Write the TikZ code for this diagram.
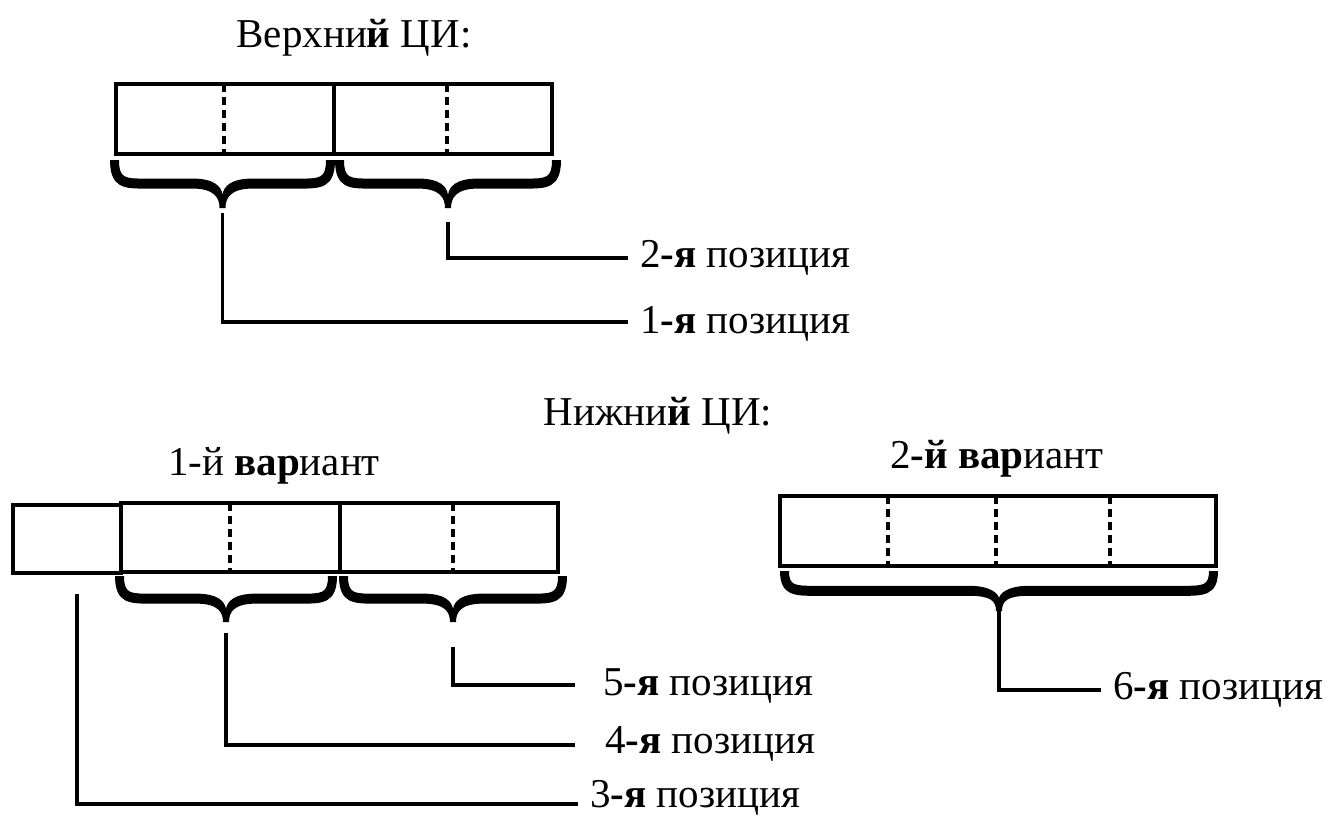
\documentclass[tikz,border=0pt]{standalone}
\usepackage{fontspec}
\setmainfont{Liberation Serif}
\begin{document}
\begin{tikzpicture}[x=1pt,y=-1pt,
  box/.style={line width=4pt},
  dline/.style={line width=4pt,dash pattern=on 8pt off 5pt},
  conn/.style={line width=3.5pt},
  lbl/.style={font=\fontsize{41}{46}\selectfont,inner sep=0pt,anchor=base west},
  ttl/.style={font=\fontsize{41}{46}\selectfont,inner sep=0pt,anchor=base}]
\useasboundingbox (0,0) rectangle (1327,816);
\newcommand\cbr[5]{%
 \pgfmathsetmacro\ba{#2}\pgfmathsetmacro\bb{#3}\pgfmathsetmacro\bt{#4}\pgfmathsetmacro\bh{#5}%
 \pgfmathsetmacro\bm{(\ba+\bb)/2}\pgfmathsetmacro\bd{0.47*\bh}%
 \fill (\ba-5,\bt)
  .. controls (\ba-5,\bt+\bd+6) and (\ba+10,\bt+\bd+6) .. (\ba+30,\bt+\bd+6)
  -- (\bm-30,\bt+\bd+6)
  .. controls (\bm-8,\bt+\bd+6) and (\bm-3,\bt+\bh-10) .. (\bm-3,\bt+\bh)
  -- (\bm+3,\bt+\bh)
  .. controls (\bm+3,\bt+\bh-10) and (\bm+8,\bt+\bd+6) .. (\bm+30,\bt+\bd+6)
  -- (\bb-30,\bt+\bd+6)
  .. controls (\bb-10,\bt+\bd+6) and (\bb+5,\bt+\bd+6) .. (\bb+5,\bt)
  -- (\bb-4,\bt)
  .. controls (\bb-4,\bt+\bd-4) and (\bb-10,\bt+\bd-4) .. (\bb-30,\bt+\bd-4)
  -- (\bm+30,\bt+\bd-4)
  .. controls (\bm+8,\bt+\bd-4) and (\bm+1,\bt+\bd+4) .. (\bm,\bt+\bh-13)
  .. controls (\bm-1,\bt+\bd+4) and (\bm-8,\bt+\bd-4) .. (\bm-30,\bt+\bd-4)
  -- (\ba+30,\bt+\bd-4)
  .. controls (\ba+10,\bt+\bd-4) and (\ba+4,\bt+\bd-4) .. (\ba+4,\bt)
  -- cycle;
 \coordinate (#1) at (\bm,\bt+\bh+5);}
% titles
\node[ttl] (tUp) at (354,48) {Верхни\textbf{й} ЦИ:};
\node[ttl] (tLow) at (658,425) {Нижни\textbf{й} ЦИ:};
\node[ttl] (tV1) at (274,475) {1-й \textbf{вар}иант};
\node[ttl] (tV2) at (997,468) {2\textbf{-й вар}иант};
% top box
\draw[box] (116,84) rectangle (552,154);
\draw[box] (334,84) -- (334,154);
\draw[dline] (224,84) -- (224,154);
\draw[dline] (447,84) -- (447,154);
\cbr{b1}{115}{330}{160}{48}
\cbr{b2}{340}{556}{160}{48}
\node[lbl] (p2) at (640,267) {2\textbf{-я} позиция};
\node[lbl] (p1) at (640,333) {1\textbf{-я} позиция};
\draw[conn] (b2) ++(0,9) |- ([shift={(-12,-9)}]p2.base west);
\draw[conn] (b1) |- ([shift={(-12,-11)}]p1.base west);
% bottom left
\draw[box] (13,505) rectangle (121,573);
\draw[box] (121,503) rectangle (558,572);
\draw[box] (340,503) -- (340,572);
\draw[dline] (230,503) -- (230,572);
\draw[dline] (453,503) -- (453,572);
\cbr{b4}{120}{332}{576}{46}
\cbr{b5}{344}{562}{576}{46}
\coordinate (b3) at (77,594);
\node[lbl] (p5) at (603,695) {5\textbf{-я} позиция};
\node[lbl] (p4) at (605,753) {4\textbf{-я} позиция};
\node[lbl] (p3) at (590,807) {3\textbf{-я} позиция};
\draw[conn] (b5) ++(0,20) |- ([shift={(-28,-10)}]p5.base west);
\draw[conn] (b4) ++(0,6) |- ([shift={(-30,-8)}]p4.base west);
\draw[conn] (b3) |- ([shift={(-12,-3)}]p3.base west);
% bottom right
\draw[box] (780,496) rectangle (1216,566);
\draw[dline] (888,496) -- (888,566);
\draw[dline] (996,496) -- (996,566);
\draw[dline] (1110,496) -- (1110,566);
\cbr{b6}{785}{1213}{571}{40}
\node[lbl] (p6) at (1113,699) {6\textbf{-я} позиция};
\draw[conn] (b6) ++(0,-5) |- ([shift={(-12,-9)}]p6.base west);
\end{tikzpicture}
\end{document}
